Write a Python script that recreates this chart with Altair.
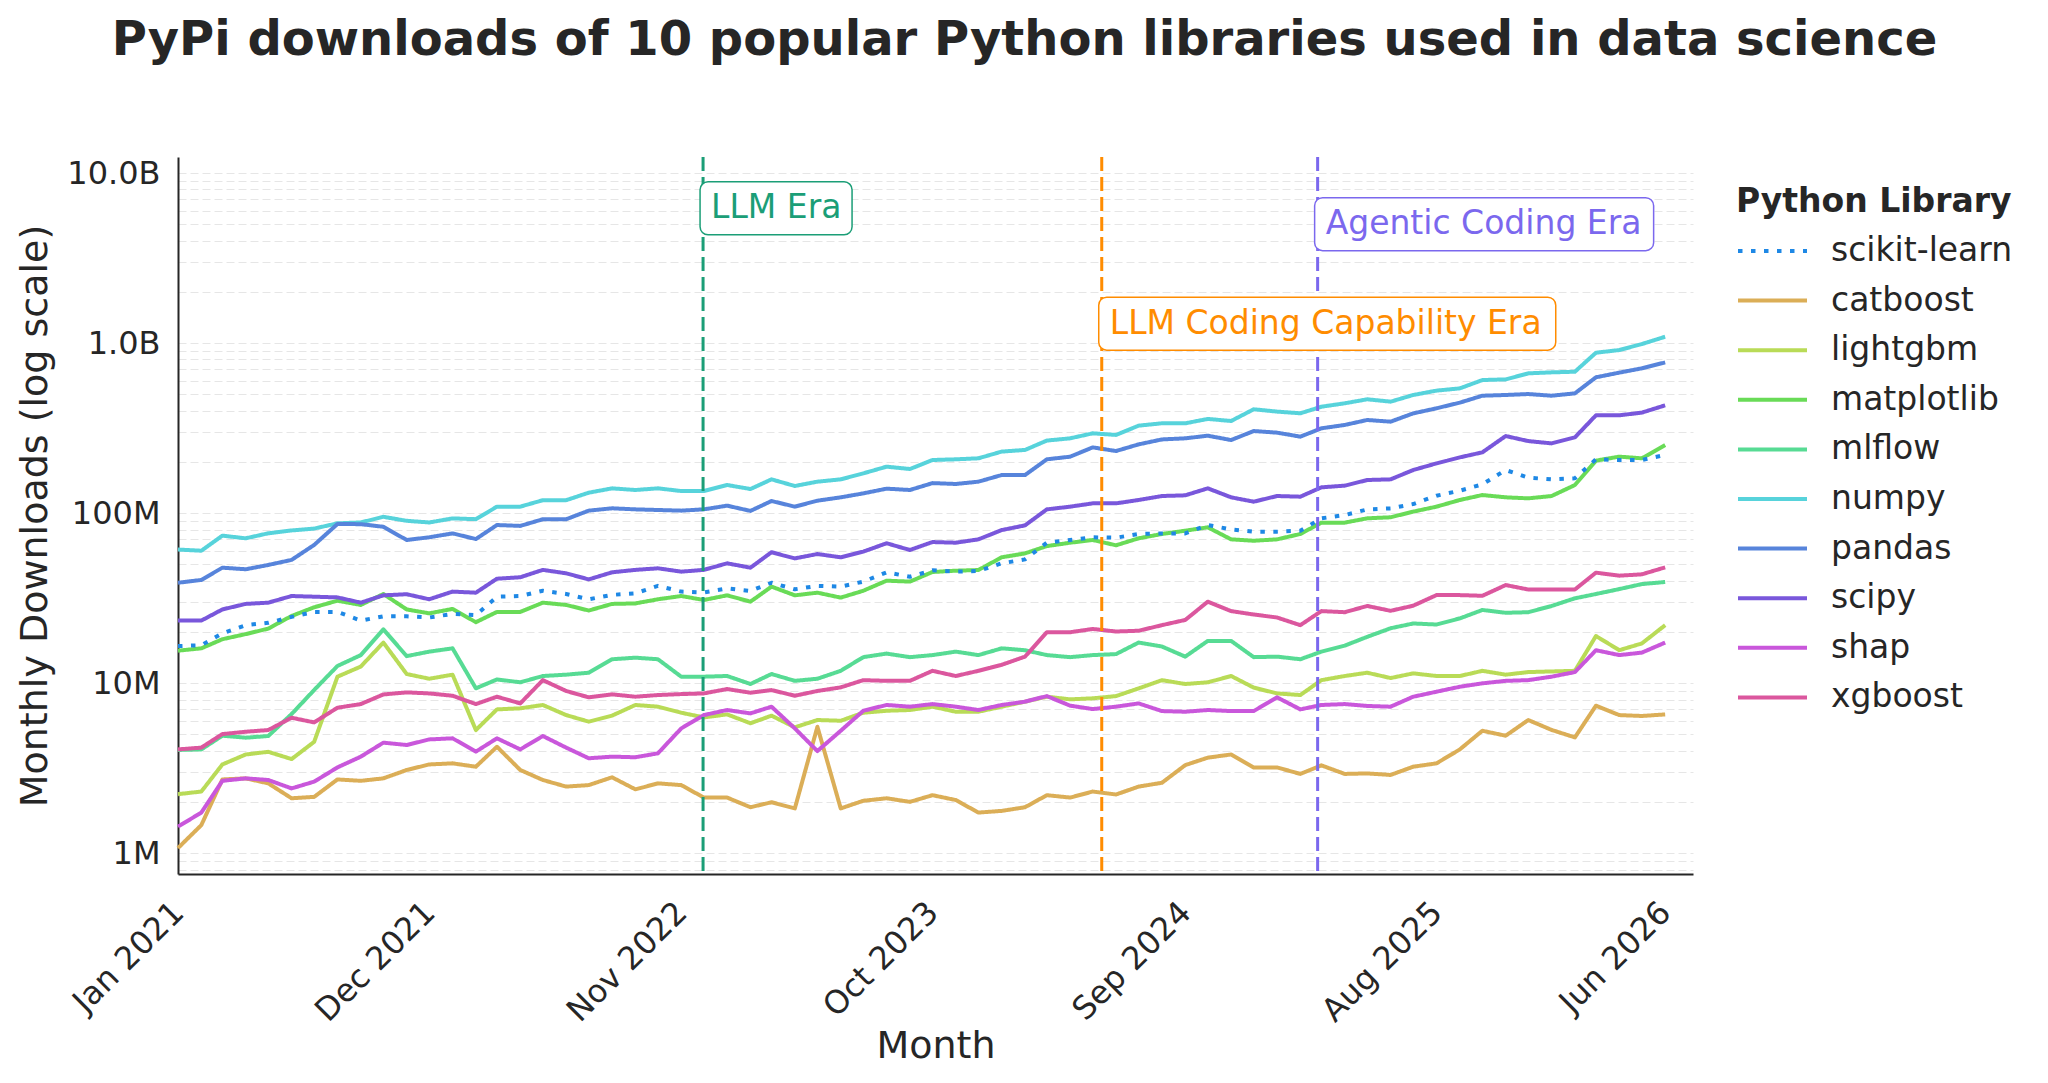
import altair as alt
import pandas as pd

# ---------------- data ----------------
month_starts = pd.date_range("2021-01-01", periods=66, freq="MS")

library_order = ["scikit-learn", "catboost", "lightgbm", "matplotlib", "mlflow",
                 "numpy", "pandas", "scipy", "shap", "xgboost"]
library_colors = ["#1E88E5", "#dbae57", "#b9db57", "#69db57", "#57db94",
                  "#57d3db", "#5784db", "#7957db", "#c957db", "#db579e"]

# monthly downloads, millions
scikit_learn = [16.5, 16.7, 19.6, 21.9, 22.6, 24.5, 26.2, 26.2, 23.3, 24.7, 24.7, 24.3, 25.5, 25.1, 32.2, 32.5, 34.9,
                33.4, 31.1, 33, 33.7, 37.3, 34.5, 34.1, 36, 34.8, 38.9, 35.6, 37.3, 36.9, 39.5, 44.8, 42.2, 46,
                45.2, 45.6, 50.6, 53.4, 66.9, 69.4, 72, 71.6, 75.3, 75.9, 75.9, 85, 80.1, 77.7, 77.7, 78.7, 93.1,
                97.3, 105, 106.5, 112.9, 126.4, 135.3, 147.5, 179, 161.4, 157.8, 160, 207, 205, 205, 219.5]
catboost = [1.07, 1.46, 2.71, 2.75, 2.57, 2.10, 2.14, 2.71, 2.66, 2.75, 3.08, 3.32, 3.37, 3.22, 4.22, 3.08, 2.69,
            2.46, 2.51, 2.79, 2.37, 2.57, 2.51, 2.12, 2.12, 1.86, 1.99, 1.83, 5.53, 1.83, 2.03, 2.10, 2.00, 2.19,
            2.05, 1.73, 1.77, 1.86, 2.19, 2.12, 2.30, 2.21, 2.46, 2.59, 3.29, 3.64, 3.80, 3.19, 3.19, 2.92, 3.28,
            2.92, 2.94, 2.88, 3.22, 3.37, 4.07, 5.24, 4.90, 6.06, 5.30, 4.79, 7.36, 6.48, 6.40, 6.54]
lightgbm = [2.22, 2.30, 3.32, 3.80, 3.94, 3.57, 4.51, 10.9, 12.5, 17.3, 11.3, 10.6, 11.2, 5.29, 7.0, 7.1, 7.43,
            6.48, 5.93, 6.43, 7.43, 7.26, 6.69, 6.28, 6.54, 5.80, 6.43, 5.49, 6.06, 6.00, 6.69, 6.87, 6.94, 7.26,
            6.78, 6.78, 7.26, 7.77, 8.31, 8.02, 8.13, 8.38, 9.30, 10.4, 9.87, 10.1, 11.0, 9.40, 8.69, 8.50, 10.4,
            11.0, 11.5, 10.7, 11.4, 11.0, 11.0, 11.8, 11.2, 11.6, 11.7, 11.8, 18.9, 15.6, 17.1, 21.9]
matplotlib = [15.5, 16, 18.1, 19.4, 20.9, 24.8, 27.9, 30.5, 28.8, 33.4, 27.1, 25.7, 27.3, 22.8, 26.2, 26.2, 29.7,
              28.8, 26.7, 29.2, 29.4, 31.1, 32.5, 30.8, 32.8, 30.1, 36.9, 32.8, 34, 31.8, 34.9, 40, 39.5, 45,
              45.8, 46.2, 54.9, 57.9, 63.9, 66.9, 69.4, 64.6, 71, 75.3, 78.7, 82.4, 70, 68.7, 70, 75.3, 87.8,
              87.8, 93.1, 94.4, 101.9, 109, 119.3, 127.6, 123.7, 122, 125.9, 146.1, 203.3, 214.6, 209.8, 251]
mlflow = [4.04, 4.07, 4.90, 4.77, 4.88, 6.57, 9.10, 12.6, 14.6, 20.7, 14.4, 15.3, 16.0, 9.31, 10.5, 10.1, 11.0,
          11.2, 11.5, 13.8, 14.1, 13.8, 10.9, 10.9, 11.0, 9.87, 11.3, 10.3, 10.6, 11.8, 14.2, 14.9, 14.2, 14.6,
          15.3, 14.6, 16.0, 15.6, 14.6, 14.2, 14.6, 14.8, 17.3, 16.4, 14.3, 17.7, 17.7, 14.2, 14.3, 13.8, 15.3,
          16.6, 18.7, 21.0, 22.4, 22.1, 24.0, 26.9, 25.9, 26.1, 28.4, 31.5, 33.4, 35.7, 38.2, 39.3]
numpy = [61, 60, 73.6, 71, 76, 79, 81, 87, 88, 95, 90, 88, 93, 92, 109, 109, 119,
         119, 131.7, 139.7, 136.6, 139.7, 134.7, 134.7, 146.2, 138.4, 157.8, 144.2, 152.9, 157.8, 171.1, 187.4, 181.5, 205,
         207, 209.8, 229.8, 235, 266.8, 275, 294.4, 287.9, 326.5, 337.2, 337, 357.7, 347.8, 407.6, 395, 386, 422,
         442, 466.7, 451.9, 494.6, 524.7, 541, 605.7, 611, 663, 672, 678, 877, 909, 986, 1089]
pandas_ = [38.9, 40.4, 47.7, 46.7, 49.5, 53, 64.9, 86.2, 86, 83, 69.4, 72, 75.9, 70.3, 85, 84, 91.9,
           91.9, 103.3, 106.6, 105.1, 104.2, 103.3, 105.1, 110.5, 102.9, 117.7, 109, 118.2, 123.7, 130.5, 139.1, 136.6, 150,
           148.2, 152.9, 167.3, 167.3, 207, 214.5, 243.3, 231.6, 253.4, 271, 275, 285, 268.7, 303.6, 297, 281.3, 315,
           329.6, 352.6, 344.6, 385.6, 413, 446, 489.8, 494.6, 501, 489.8, 505.7, 628.6, 669.6, 710, 769]
scipy = [23.3, 23.3, 27.1, 29.2, 29.7, 32.5, 32.2, 31.9, 29.7, 32.8, 33.3, 31.1, 34.5, 34, 41.1, 41.9, 46.3,
         44.2, 40.7, 44.8, 46.3, 47.3, 45.2, 46.3, 50.6, 47.7, 58.8, 54.1, 57.4, 54.9, 59.3, 66.4, 60.6, 67.5,
         66.9, 70, 79.4, 84.6, 105.1, 109, 114, 114, 119.3, 125.9, 127.1, 139.7, 123.7, 116.6, 125.9, 124.8, 141.6,
         144.9, 156.4, 157.8, 179, 195.9, 212.5, 227.5, 283.7, 265, 256.8, 278.6, 375.6, 375.6, 389.5, 430]
shap = [1.43, 1.73, 2.66, 2.75, 2.69, 2.40, 2.63, 3.19, 3.69, 4.46, 4.32, 4.66, 4.73, 3.95, 4.73, 4.07, 4.88,
        4.17, 3.61, 3.69, 3.66, 3.86, 5.41, 6.48, 6.94, 6.63, 7.26, 5.41, 3.98, 5.24, 6.87, 7.43, 7.26, 7.52,
        7.26, 6.94, 7.43, 7.77, 8.38, 7.36, 7.03, 7.26, 7.59, 6.84, 6.78, 6.94, 6.84, 6.84, 8.24, 7.0, 7.43,
        7.52, 7.33, 7.26, 8.31, 8.89, 9.51, 9.96, 10.3, 10.4, 10.9, 11.6, 15.6, 14.6, 15.1, 17.3]
xgboost = [4.07, 4.17, 5.01, 5.17, 5.29, 6.25, 5.87, 7.16, 7.52, 8.57, 8.81, 8.69, 8.42, 7.52, 8.31, 7.59, 10.4,
           8.98, 8.24, 8.58, 8.31, 8.50, 8.61, 8.69, 9.22, 8.77, 9.09, 8.42, 8.98, 9.43, 10.4, 10.3, 10.3, 11.8,
           11.0, 11.8, 12.8, 14.3, 19.9, 19.9, 20.8, 20.1, 20.3, 21.9, 23.5, 30.1, 26.5, 25.3, 24.3, 21.9, 26.5,
           26.1, 28.4, 26.6, 28.5, 32.9, 32.9, 32.6, 37.7, 35.5, 35.5, 35.5, 44.6, 42.8, 43.6, 47.9]

downloads_millions = {
    "scikit-learn": scikit_learn, "catboost": catboost, "lightgbm": lightgbm,
    "matplotlib": matplotlib, "mlflow": mlflow, "numpy": numpy, "pandas": pandas_,
    "scipy": scipy, "shap": shap, "xgboost": xgboost,
}

# era annotations
era_dates = ["2022-11-30", "2024-05-13", "2025-02-24"]
era_labels = ["LLM Era", "LLM Coding Capability Era", "Agentic Coding Era"]
era_colors = ["#1b9e77", "#ff8c00", "#7b68ee"]
era_label_y = [6.2e9, 1.3e9, 5.0e9]

# axis ticks
x_tick_months = ["2021-01", "2021-12", "2022-11", "2023-10", "2024-09", "2025-08", "2026-06"]
x_tick_labels = ["Jan 2021", "Dec 2021", "Nov 2022", "Oct 2023", "Sep 2024", "Aug 2025", "Jun 2026"]
y_tick_values = [1e6, 1e7, 1e8, 1e9, 1e10]
y_tick_labels = ["1M", "10M", "100M", "1.0B", "10.0B"]

# ---------------- tables ----------------
draw_order = library_order[1:] + ["scikit-learn"]
records = []
for lib in draw_order:
    for m, v in zip(month_starts, downloads_millions[lib]):
        records.append({"month": m, "library": lib, "downloads": v * 1_000_000})
df = pd.DataFrame(records)

# ---------------- styling ----------------
FONT = "DejaVu Sans"
INK = "#262626"
Y_DOMAIN = [7.53e5, 1.242e10]
PLOT_W, PLOT_H = 1515, 717

x_scale = alt.Scale(domain=[alt.DateTime(year=2021, month=1, date=1),
                            alt.DateTime(year=2026, month=7, date=8)], nice=False)
y_scale = alt.Scale(type="log", domain=Y_DOMAIN, nice=False)

grid_values = [k * 10 ** e for e in range(5, 11) for k in range(1, 10)
               if Y_DOMAIN[0] <= k * 10 ** e <= Y_DOMAIN[1]]

y_expr = "''"
for v, lab in reversed(list(zip(y_tick_values, y_tick_labels))):
    y_expr = f"abs(datum.value - {v}) < {v * 1e-6} ? '{lab}' : ({y_expr})"

x_expr = "''"
for k, lab in reversed(list(zip(x_tick_months, x_tick_labels))):
    x_expr = f"timeFormat(datum.value, '%Y-%m') == '{k}' ? '{lab}' : ({x_expr})"

x_tick_values = [alt.DateTime(year=int(k[:4]), month=int(k[5:]), date=1) for k in x_tick_months]

x_axis = alt.Axis(
    values=x_tick_values, labelExpr=x_expr, labelAngle=-45, labelAlign="right",
    labelBaseline="middle", labelFontSize=32, labelColor=INK, labelPadding=33,
    labelOffset=0, labelFlush=False, labelOverlap=False, ticks=False, tickSize=0,
    grid=False, domainColor=INK, domainWidth=2,
    title="Month", titleFontSize=38, titleFontWeight="normal", titleColor=INK,
    titleY=183, titleBaseline="alphabetic",
)
y_axis = alt.Axis(
    values=grid_values, labelExpr=y_expr, labelFontSize=32, labelColor=INK,
    labelPadding=18, labelOverlap=False, labelFlush=False, ticks=False, tickSize=0,
    grid=True, gridColor="#e6e6e6", gridDash=[8, 4], gridWidth=1,
    domainColor=INK, domainWidth=2,
    title="Monthly Downloads (log scale)", titleFontSize=38, titleFontWeight="normal",
    titleColor=INK, titleX=-132, titleBaseline="alphabetic",
)

legend = alt.Legend(
    title="Python Library", orient="none", legendX=1558, legendY=29,
    symbolType="stroke", symbolSize=4761, symbolStrokeWidth=4,
    clipHeight=38, rowPadding=11.6, titlePadding=13, labelOffset=22, padding=0,
    labelFontSize=33, titleFontSize=33, titleFontWeight="bold",
    labelLimit=500, titleLimit=500,
    labelColor=INK, titleColor=INK, labelFont=FONT, titleFont=FONT,
)

dash_range = [[4.5, 8.5] if lib == "scikit-learn" else [1, 0] for lib in library_order]

lines = alt.Chart(df).mark_line(strokeWidth=4, strokeJoin="round").encode(
    x=alt.X("month:T", scale=x_scale, axis=x_axis),
    y=alt.Y("downloads:Q", scale=y_scale, axis=y_axis),
    color=alt.Color("library:N", scale=alt.Scale(domain=library_order, range=library_colors),
                    legend=legend),
    strokeDash=alt.StrokeDash("library:N", scale=alt.Scale(domain=library_order, range=dash_range),
                              legend=legend),
)

box_right = {"LLM Era": 149, "LLM Coding Capability Era": 454, "Agentic Coding Era": 336}

layers = [lines]
for d, lab, col, yv in zip(era_dates, era_labels, era_colors, era_label_y):
    edf = pd.DataFrame({"date": [pd.Timestamp(d)], "label": [lab], "ly": [yv]})
    layers.append(
        alt.Chart(edf).mark_rule(color=col, strokeWidth=3, strokeDash=[14, 6]).encode(
            x=alt.X("date:T", scale=x_scale)
        )
    )
for d, lab, col, yv in zip(era_dates, era_labels, era_colors, era_label_y):
    edf = pd.DataFrame({"date": [pd.Timestamp(d)], "label": [lab], "ly": [yv]})
    layers.append(
        alt.Chart(edf).mark_rect(
            fill="white", stroke=col, strokeWidth=1.5, cornerRadius=8,
            xOffset=-3, x2Offset=box_right[lab], yOffset=-26.5, y2Offset=26.5,
        ).encode(
            x=alt.X("date:T", scale=x_scale), x2="date:T",
            y=alt.Y("ly:Q", scale=y_scale), y2="ly:Q",
        )
    )
    layers.append(
        alt.Chart(edf).mark_text(
            align="left", baseline="middle", dx=8, fontSize=33, font=FONT, color=col,
        ).encode(
            x=alt.X("date:T", scale=x_scale),
            y=alt.Y("ly:Q", scale=y_scale),
            text="label:N",
        )
    )

chart = alt.layer(*layers).properties(
    width=PLOT_W, height=PLOT_H,
    autosize=alt.AutoSizeParams(type="none"),
    padding={"left": 170, "top": 149, "right": 347, "bottom": 201},
    title=alt.TitleParams(
        "PyPi downloads of 10 popular Python libraries used in data science",
        fontSize=48, fontWeight="bold", font=FONT, color=INK, anchor="middle",
        frame="group", baseline="alphabetic", offset=53, dx=89,
    ),
).configure(font=FONT, background="white").configure_view(strokeWidth=0)

chart.save("out.html", embed_options={"renderer": "svg", "actions": False})
